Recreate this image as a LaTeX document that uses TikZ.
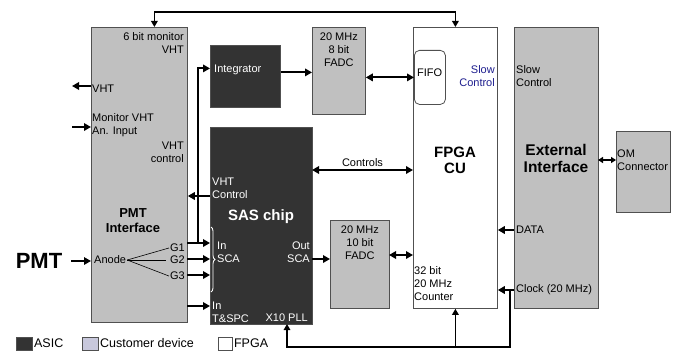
\documentclass[tikz,border=0pt]{standalone}
\usepackage{fontspec}
\setmainfont{Liberation Sans}
\usepackage{tikz}
\usetikzlibrary{arrows.meta,decorations.pathreplacing}
\definecolor{asic}{HTML}{333333}
\definecolor{custgray}{HTML}{C0C0C0}
\definecolor{legcust}{HTML}{C8C8DC}
\definecolor{slowblue}{HTML}{1F1F8F}
\definecolor{edgegray}{HTML}{505050}

\begin{document}
\begin{tikzpicture}[x=1pt,y=-1pt,
  blk/.style={draw=edgegray,line width=0.8pt,anchor=north west,inner sep=0pt},
  asicblk/.style={blk,fill=asic},
  custblk/.style={blk,fill=custgray},
  fpgablk/.style={blk,fill=white},
  lbl/.style={font=\fontsize{11}{13}\selectfont,inner sep=1pt,align=left},
  asiclbl/.style={lbl,text=white},
  head/.style={font=\fontsize{15}{16}\selectfont\bfseries,inner sep=1pt,align=center},
  sig/.style={line width=2pt,-{Triangle[length=7pt,width=7.5pt]}},
  bisig/.style={line width=2pt,{Triangle[length=7pt,width=7.5pt]}-{Triangle[length=7pt,width=7.5pt]}},
  wire/.style={line width=1.6pt},
  legsq/.style={draw=edgegray,anchor=west,minimum width=16pt,minimum height=13pt,inner sep=0pt},
  legtxt/.style={font=\fontsize{12.5}{14}\selectfont,anchor=west,inner sep=1.5pt}]
\useasboundingbox (0,0) rectangle (676,353);

\node[custblk,minimum width=96pt,minimum height=295pt] (pmtif) at (91,27) {};
\node[asicblk,minimum width=70pt,minimum height=62pt] (integ) at (210,45) {};
\node[custblk,minimum width=53pt,minimum height=87pt] (fadc8) at (312,27) {};
\node[asicblk,minimum width=102pt,minimum height=197pt] (sas) at (210,127) {};
\node[custblk,minimum width=59pt,minimum height=88pt] (fadc10) at (330,220) {};
\node[fpgablk,minimum width=84pt,minimum height=281pt] (fpga) at (413,27) {};
\node[blk,rounded corners=5pt,minimum width=31pt,minimum height=54pt] (fifo) at (414,50) {};
\node[custblk,minimum width=84pt,minimum height=281pt] (ext) at (514,27) {};
\node[custblk,minimum width=54pt,minimum height=81pt] (om) at (616,131) {};

\node[lbl,anchor=east,align=right] (monvht) at (185,43.5) {6 bit monitor\\VHT};
\node[lbl,anchor=west] (vhtlbl) at (91,89) {VHT};
\node[lbl,anchor=west] (moninlbl) at (91,125.5) {Monitor VHT\\An. Input};
\node[lbl,anchor=east,align=right] (vhtctl) at (185,152.5) {VHT\\control};
\node[head,font=\fontsize{13}{15}\selectfont\bfseries] (pmtiflbl) at (133,220.5) {PMT\\Interface};
\node[lbl,anchor=west] (anode) at (93,260) {Anode};
\node[lbl,anchor=east] (g1lbl) at (186,248) {G1};
\node[lbl,anchor=east] (g2lbl) at (186,260) {G2};
\node[lbl,anchor=east] (g3lbl) at (186,276) {G3};
\draw[line width=0.6pt] (anode.east) -- (g1lbl.west);
\draw[line width=0.6pt] (anode.east) -- ([xshift=-3pt]g2lbl.west);
\draw[line width=0.6pt] (anode.east) -- (g3lbl.west);
\node[head,font=\fontsize{22}{24}\selectfont\bfseries] (pmt) at (39,261) {PMT};

\node[asiclbl,anchor=west] (integlbl) at (213,70) {Integrator};
\node[lbl,align=center] (fadc8lbl) at (fadc8.north |- 0,50) {20 MHz\\8 bit\\FADC};
\node[asiclbl,anchor=west] (vhtclbl) at (211,188.5) {VHT\\Control};
\node[head,text=white] (saslbl) at (261,217) {SAS chip};
\node[asiclbl,anchor=west] (inscalbl) at (216,252) {In\\SCA};
\node[asiclbl,anchor=east,align=right] (outscalbl) at (311,252) {Out\\SCA};
\node[asiclbl,anchor=west] (tspclbl) at (211,312) {In\\T\&SPC};
\node[asiclbl,anchor=east] (plllbl) at (309,318) {X10 PLL};
\node[lbl,align=center] (fadc10lbl) at (fadc10.north |- 0,243) {20 MHz\\10 bit\\FADC};

\node[lbl,anchor=west] (fifolbl) at (416,73) {FIFO};
\node[lbl,anchor=east,align=right,text=slowblue] (fpgaslow) at (496,76.5) {Slow\\Control};
\node[head] (fpgalbl) at (455,160) {FPGA\\CU};
\node[lbl,anchor=west] (cntlbl) at (413,284) {32 bit\\20 MHz\\Counter};

\node[lbl,anchor=west] (extslow) at (515,76.5) {Slow\\Control};
\node[head,font=\fontsize{15.5}{17}\selectfont\bfseries] (extlbl) at (556,158.5) {External\\Interface};
\node[lbl,anchor=west] (datalbl) at (515,230) {DATA};
\node[lbl,anchor=west] (clklbl) at (515,290) {Clock (20 MHz)};
\node[lbl,anchor=west] (omlbl) at (616,160) {OM\\Connector};

\draw[wire,{Triangle[length=6pt,width=6.5pt]}-{Triangle[length=6pt,width=6.5pt]}] ([xshift=15pt]pmtif.north) -- ++(0,-15) -| (fpga.north);

\coordinate (vhtout) at (72,86);
\draw[sig] (vhtout -| pmtif.west) -- (vhtout);
\coordinate (monsrc) at (72,127);
\draw[sig] (monsrc) -- (monsrc -| pmtif.west);
\draw[sig,line width=1.5pt] ([xshift=8pt]pmt.east) -- (pmt -| pmtif.west);

\coordinate (g1) at (187,243);
\coordinate (g2) at (187,259);
\coordinate (g3) at (187,275);
\coordinate (tap) at (198,243);
\coordinate (tspc) at (187,306);
\draw[sig] (g1) -- (g1 -| sas.west);
\draw[sig] (g2) -- (g2 -| sas.west);
\draw[sig] (g3) -- (g3 -| sas.west);
\draw[sig] (tspc) -- (tspc -| sas.west);
\draw[sig] (tap) |- ([yshift=8pt]integ.west);
\draw[white,line width=0.9pt,decorate,decoration={brace,amplitude=4pt}] (211,227) -- (211,292);

\coordinate (intout) at ([yshift=4pt]integ.east);
\draw[sig] (intout) -- (intout -| fadc8.west);
\draw[bisig] (fifo.west -| fadc8.east) -- (fifo.west);

\coordinate (vhtc) at (210,196);
\draw[sig] (vhtc) -- (vhtc -| pmtif.east);
\coordinate (ctrl) at (312,170);
\draw[bisig] (ctrl) -- node[lbl,above=1.5pt] (ctrllbl) {Controls} (ctrl -| fpga.west);
\coordinate (outsca) at (312,259);
\draw[sig] (outsca) -- (outsca -| fadc10.west);
\coordinate (adc10) at (389,255);
\draw[bisig] (adc10) -- (adc10 -| fpga.west);

\coordinate (omlink) at (598,160);
\draw[line width=1.6pt,{Triangle[length=5pt,width=6pt]}-{Triangle[length=5pt,width=6pt]}] (omlink) -- (omlink -| om.west);
\coordinate (data) at (514,230);
\draw[sig] (data) -- (data -| fpga.east);
\coordinate (clk) at (514,290);
\draw[sig] (clk) -- (clk -| fpga.east);
\coordinate (clkbus) at (510,347);
\coordinate (pll) at (287,324);
\draw[wire,-{Triangle[length=6pt,width=6.5pt]}] (clkbus |- clk) -- (clkbus) -| (pll);
\draw[wire,-{Triangle[length=6pt,width=6.5pt]}] (clkbus -| fpga.south) -- (fpga.south);

\node[legsq,fill=asic] (legasic) at (16,343.5) {};
\node[legtxt] (legasictxt) at (legasic.east) {ASIC};
\node[legsq,fill=legcust] (legcustsq) at (82,343.5) {};
\node[legtxt] (legcusttxt) at (legcustsq.east) {Customer device};
\node[legsq,fill=white,minimum width=14pt] (legfpga) at (218,343.5) {};
\node[legtxt] (legfpgatxt) at (legfpga.east) {FPGA};
\end{tikzpicture}
\end{document}
